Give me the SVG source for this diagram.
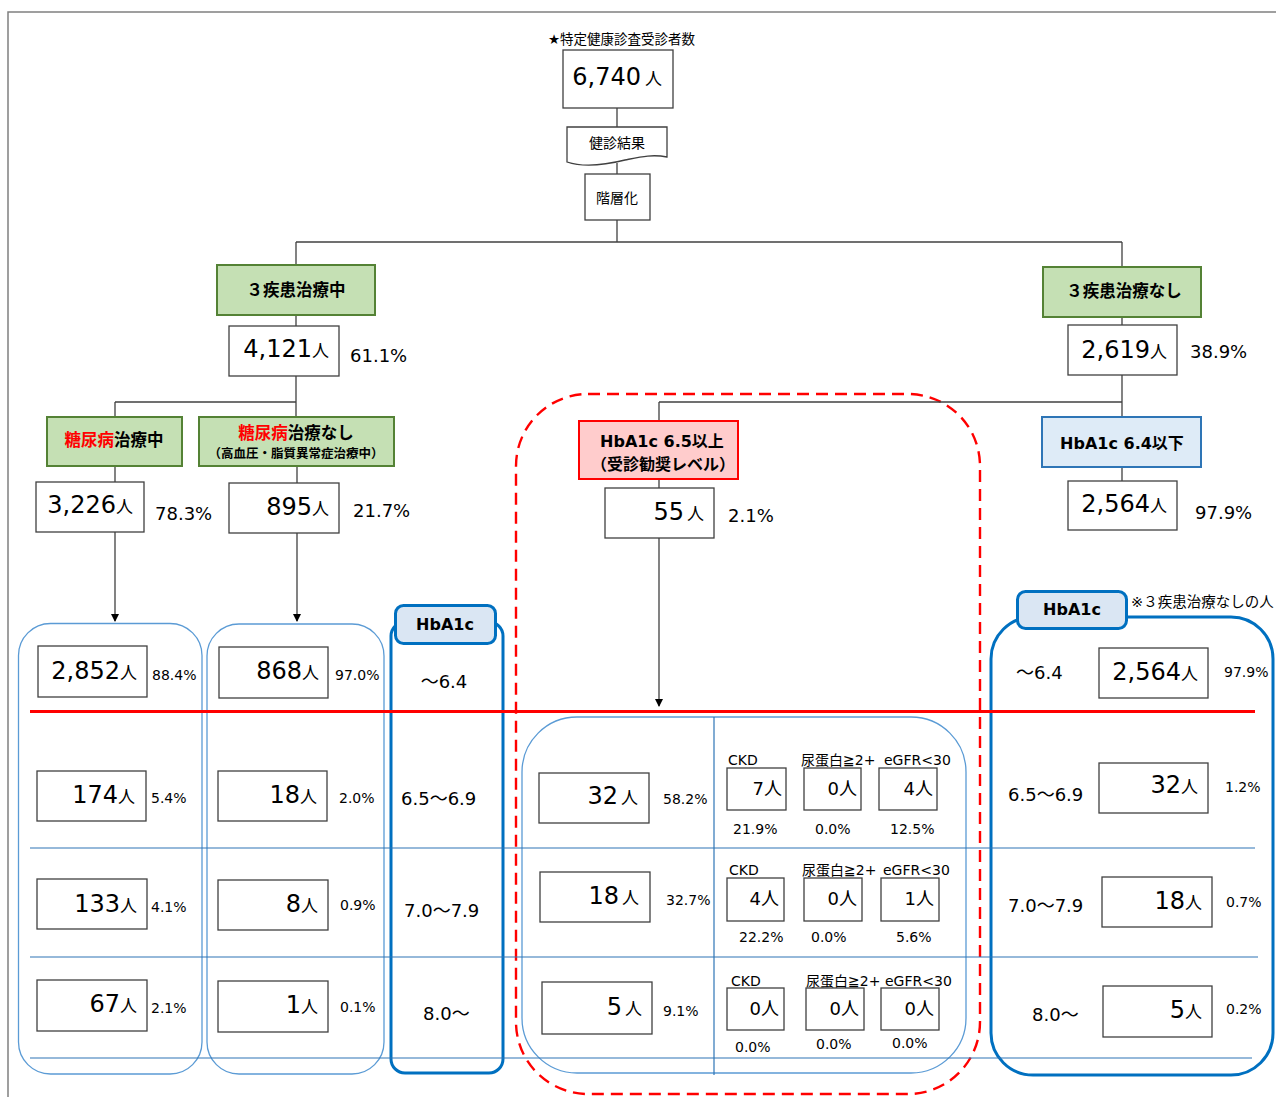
<svg xmlns="http://www.w3.org/2000/svg" width="1276" height="1097" viewBox="0 0 1276 1097">
<style>
.t{font-family:"DejaVu Sans","Noto Sans CJK JP",sans-serif;fill:#000}
.b{font-weight:bold}
.nb{fill:#fff;stroke:#404040;stroke-width:1.3}
.ln{stroke:#404040;stroke-width:1.3;fill:none}
.bl{stroke:#2e75b6;stroke-width:1.2;fill:none}
.big{font-size:24px}
.u{font-size:17px}
.pc{font-size:18px}
.ps{font-size:14px}
.sm{font-size:18px}
.gr{fill:#c5e0b4;stroke:#548235;stroke-width:2}
.cont{fill:none;stroke:#5b9bd5;stroke-width:1.3}
.thick{fill:none;stroke:#0070c0;stroke-width:3}
.tab{fill:#dae6f3;stroke:#0070c0;stroke-width:3}
.red{fill:#ff0000}
</style>
<defs>
<marker id="arr" markerWidth="8" markerHeight="8" refX="7" refY="4" orient="auto" markerUnits="userSpaceOnUse">
<path d="M0,0 L8,4 L0,8 Z" fill="#000"/>
</marker>
</defs>
<rect width="1276" height="1097" fill="#fff"/>
<path d="M8,1097 V12 H1276" fill="none" stroke="#808080" stroke-width="1.5"/>

<g id="containers">
<rect x="516" y="394" width="464" height="700" rx="72" fill="none" stroke="#ff0000" stroke-width="2.4" stroke-dasharray="12,7"/>
<rect class="cont" x="18.5" y="623.5" width="183.5" height="450.5" rx="32"/>
<rect class="cont" x="207" y="624" width="177" height="450" rx="32"/>
<rect class="cont" x="522" y="717" width="444" height="356" rx="55"/>
<rect class="thick" x="391" y="622" width="112" height="451" rx="14"/>
<rect class="thick" x="991" y="617" width="282" height="458" rx="42"/>
</g>

<g id="connectors">
<line class="ln" x1="617" y1="108" x2="617" y2="127"/>
<line class="ln" x1="617" y1="163" x2="617" y2="174"/>
<line class="ln" x1="617" y1="220" x2="617" y2="242"/>
<line class="ln" x1="296" y1="242" x2="1122" y2="242"/>
<line class="ln" x1="296" y1="242" x2="296" y2="265"/>
<line class="ln" x1="1122" y1="242" x2="1122" y2="267"/>
<line class="ln" x1="296" y1="316" x2="296" y2="326"/>
<line class="ln" x1="296" y1="376" x2="296" y2="417"/>
<line class="ln" x1="115" y1="402" x2="296" y2="402"/>
<line class="ln" x1="115" y1="402" x2="115" y2="417"/>
<line class="ln" x1="297" y1="466" x2="297" y2="483"/>
<line class="ln" x1="115" y1="466" x2="115" y2="482"/>
<line class="ln" x1="115" y1="532" x2="115" y2="621" marker-end="url(#arr)"/>
<line class="ln" x1="297" y1="533" x2="297" y2="621" marker-end="url(#arr)"/>
<line class="ln" x1="1122" y1="317" x2="1122" y2="325"/>
<line class="ln" x1="1122" y1="375" x2="1122" y2="417"/>
<line class="ln" x1="659" y1="402" x2="1122" y2="402"/>
<line class="ln" x1="659" y1="402" x2="659" y2="421"/>
<line class="ln" x1="1122" y1="467" x2="1122" y2="481"/>
<line class="ln" x1="659" y1="480" x2="659" y2="488"/>
<line class="ln" x1="659" y1="538" x2="659" y2="706" marker-end="url(#arr)"/>
<line class="bl" x1="714" y1="717" x2="714" y2="1075"/>
<line x1="30" y1="711.5" x2="1255" y2="711.5" stroke="#ff0000" stroke-width="3"/>
<line class="bl" x1="30" y1="848" x2="1255" y2="848"/>
<line class="bl" x1="30" y1="957" x2="1258" y2="957"/>
<line class="bl" x1="30" y1="1058" x2="1252" y2="1058"/>
</g>

<g id="top">
<text class="t" x="548" y="44" font-size="13.5">★特定健康診査受診者数</text>
<rect class="nb" x="563" y="50" width="110" height="58"/>
<text class="t" x="662" y="85" text-anchor="end"><tspan class="big">6,740</tspan><tspan class="u" dx="4">人</tspan></text>
</g>
<g id="kenshin">
<path d="M567,127 H667 V157 C652,154 640,157 625,160 C605,165 585,168 567,162 Z" class="nb"/>
<text class="t" x="617" y="148" font-size="14" text-anchor="middle">健診結果</text>
</g>
<g id="kaiso">
<rect class="nb" x="585" y="174" width="65" height="46"/>
<text class="t" x="617" y="203" font-size="14" text-anchor="middle">階層化</text>
</g>

<g id="chiryochu">
<rect class="gr" x="217" y="265" width="158" height="50"/>
<text class="t b" x="296" y="296" font-size="16.5" text-anchor="middle">３疾患治療中</text>
<rect class="nb" x="229" y="326" width="110" height="50"/>
<text class="t" x="329" y="357" text-anchor="end"><tspan class="big">4,121</tspan><tspan class="u">人</tspan></text>
<text class="t pc" x="350" y="362">61.1%</text>
</g>

<g id="tonyo-chu">
<rect class="gr" x="47" y="417" width="135" height="49"/>
<text class="t b" x="114" y="446" font-size="16.5" text-anchor="middle"><tspan class="red">糖尿病</tspan>治療中</text>
<rect class="nb" x="36" y="482" width="108" height="50"/>
<text class="t" x="133" y="513" text-anchor="end"><tspan class="big">3,226</tspan><tspan class="u">人</tspan></text>
<text class="t pc" x="155" y="520">78.3%</text>
</g>

<g id="tonyo-nashi">
<rect class="gr" x="199" y="417" width="195" height="49"/>
<text class="t b" x="296" y="439" font-size="16.5" text-anchor="middle"><tspan class="red">糖尿病</tspan>治療なし</text>
<text class="t b" x="296" y="458" font-size="12.5" text-anchor="middle">（高血圧・脂質異常症治療中）</text>
<rect class="nb" x="229" y="483" width="110" height="50"/>
<text class="t" x="329" y="515" text-anchor="end"><tspan class="big">895</tspan><tspan class="u">人</tspan></text>
<text class="t pc" x="353" y="517">21.7%</text>
</g>

<g id="hba-65">
<rect x="579" y="421" width="159" height="58" fill="#ffcccc" stroke="#ff0000" stroke-width="2"/>
<text class="t b" x="662" y="447" font-size="16" text-anchor="middle">HbA1c 6.5以上</text>
<text class="t b" x="663" y="470" font-size="16" text-anchor="middle">（受診勧奨レベル）</text>
<rect class="nb" x="605" y="488" width="109" height="50"/>
<text class="t" x="704" y="520" text-anchor="end"><tspan class="big">55</tspan><tspan class="u" dx="3">人</tspan></text>
<text class="t pc" x="728" y="522">2.1%</text>
</g>

<g id="nashi">
<rect class="gr" x="1043" y="267" width="158" height="50"/>
<text class="t b" x="1124" y="297" font-size="16.5" text-anchor="middle">３疾患治療なし</text>
<rect class="nb" x="1068" y="325" width="109" height="50"/>
<text class="t" x="1167" y="358" text-anchor="end"><tspan class="big">2,619</tspan><tspan class="u">人</tspan></text>
<text class="t pc" x="1190" y="358">38.9%</text>
</g>

<g id="hba-64">
<rect x="1042" y="417" width="159" height="50" fill="#deebf7" stroke="#2e75b6" stroke-width="2"/>
<text class="t b" x="1122" y="449" font-size="16" text-anchor="middle">HbA1c 6.4以下</text>
<rect class="nb" x="1068" y="481" width="109" height="49"/>
<text class="t" x="1167" y="512" text-anchor="end"><tspan class="big">2,564</tspan><tspan class="u">人</tspan></text>
<text class="t pc" x="1195" y="519">97.9%</text>
</g>

<g id="tab-left">
<rect class="tab" x="395.5" y="605.5" width="100" height="38" rx="8"/>
<text class="t b" x="445" y="630" font-size="16" text-anchor="middle">HbA1c</text>
<text class="t pc" x="444" y="688" text-anchor="middle">～6.4</text>
<text class="t pc" x="401" y="805">6.5～6.9</text>
<text class="t pc" x="404" y="917">7.0～7.9</text>
<text class="t pc" x="423" y="1020">8.0～</text>
</g>

<g id="col-chu">
<rect class="nb" x="38" y="646" width="109" height="51"/>
<text class="t" x="137" y="679" text-anchor="end"><tspan class="big">2,852</tspan><tspan class="u">人</tspan></text>
<text class="t ps" x="152" y="680">88.4%</text>
<rect class="nb" x="37" y="771" width="109" height="50"/>
<text class="t" x="135" y="803" text-anchor="end"><tspan class="big">174</tspan><tspan class="u">人</tspan></text>
<text class="t ps" x="151" y="803">5.4%</text>
<rect class="nb" x="37" y="879" width="110" height="50"/>
<text class="t" x="137" y="912" text-anchor="end"><tspan class="big">133</tspan><tspan class="u">人</tspan></text>
<text class="t ps" x="151" y="912">4.1%</text>
<rect class="nb" x="37" y="980" width="110" height="51"/>
<text class="t" x="137" y="1012" text-anchor="end"><tspan class="big">67</tspan><tspan class="u">人</tspan></text>
<text class="t ps" x="151" y="1013">2.1%</text>
</g>

<g id="col-nashi">
<rect class="nb" x="219" y="647" width="109" height="51"/>
<text class="t" x="319" y="679" text-anchor="end"><tspan class="big">868</tspan><tspan class="u">人</tspan></text>
<text class="t ps" x="335" y="680">97.0%</text>
<rect class="nb" x="218" y="771" width="109" height="50"/>
<text class="t" x="317" y="803" text-anchor="end"><tspan class="big">18</tspan><tspan class="u">人</tspan></text>
<text class="t ps" x="339" y="803">2.0%</text>
<rect class="nb" x="218" y="880" width="110" height="50"/>
<text class="t" x="318" y="912" text-anchor="end"><tspan class="big">8</tspan><tspan class="u">人</tspan></text>
<text class="t ps" x="340" y="910">0.9%</text>
<rect class="nb" x="218" y="981" width="110" height="51"/>
<text class="t" x="318" y="1013" text-anchor="end"><tspan class="big">1</tspan><tspan class="u">人</tspan></text>
<text class="t ps" x="340" y="1012">0.1%</text>
</g>

<g id="col-mid">
<rect class="nb" x="539" y="773" width="110" height="50"/>
<text class="t" x="638" y="804" text-anchor="end"><tspan class="big">32</tspan><tspan class="u" dx="3">人</tspan></text>
<text class="t ps" x="663" y="804">58.2%</text>
<text class="t ps" x="728" y="765">CKD</text>
<text class="t ps" x="801" y="765">尿蛋白≧2+</text>
<text class="t ps" x="884" y="765">eGFR&lt;30</text>
<rect class="nb" x="727" y="768" width="59" height="42"/>
<text class="t sm" x="782" y="795" text-anchor="end">7人</text>
<rect class="nb" x="804" y="768" width="57" height="42"/>
<text class="t sm" x="857" y="795" text-anchor="end">0人</text>
<rect class="nb" x="879" y="768" width="58" height="42"/>
<text class="t sm" x="933" y="795" text-anchor="end">4人</text>
<text class="t ps" x="733" y="834">21.9%</text>
<text class="t ps" x="815" y="834">0.0%</text>
<text class="t ps" x="890" y="834">12.5%</text>

<rect class="nb" x="540" y="872" width="110" height="50"/>
<text class="t" x="639" y="904" text-anchor="end"><tspan class="big">18</tspan><tspan class="u" dx="3">人</tspan></text>
<text class="t ps" x="666" y="905">32.7%</text>
<text class="t ps" x="729" y="875">CKD</text>
<text class="t ps" x="802" y="875">尿蛋白≧2+</text>
<text class="t ps" x="883" y="875">eGFR&lt;30</text>
<rect class="nb" x="727" y="878" width="57" height="43"/>
<text class="t sm" x="779" y="905" text-anchor="end">4人</text>
<rect class="nb" x="804" y="878" width="58" height="43"/>
<text class="t sm" x="857" y="905" text-anchor="end">0人</text>
<rect class="nb" x="881" y="878" width="58" height="43"/>
<text class="t sm" x="934" y="905" text-anchor="end">1人</text>
<text class="t ps" x="739" y="942">22.2%</text>
<text class="t ps" x="811" y="942">0.0%</text>
<text class="t ps" x="896" y="942">5.6%</text>

<rect class="nb" x="542" y="982" width="110" height="52"/>
<text class="t" x="642" y="1015" text-anchor="end"><tspan class="big">5</tspan><tspan class="u" dx="3">人</tspan></text>
<text class="t ps" x="663" y="1016">9.1%</text>
<text class="t ps" x="731" y="986">CKD</text>
<text class="t ps" x="806" y="986">尿蛋白≧2+</text>
<text class="t ps" x="885" y="986">eGFR&lt;30</text>
<rect class="nb" x="727" y="988" width="57" height="42"/>
<text class="t sm" x="779" y="1015" text-anchor="end">0人</text>
<rect class="nb" x="806" y="988" width="58" height="42"/>
<text class="t sm" x="859" y="1015" text-anchor="end">0人</text>
<rect class="nb" x="881" y="988" width="58" height="42"/>
<text class="t sm" x="934" y="1015" text-anchor="end">0人</text>
<text class="t ps" x="735" y="1052">0.0%</text>
<text class="t ps" x="816" y="1049">0.0%</text>
<text class="t ps" x="892" y="1048">0.0%</text>
</g>

<g id="col-right">
<rect class="tab" x="1017.5" y="591.5" width="109" height="37" rx="8"/>
<text class="t b" x="1072" y="615" font-size="16" text-anchor="middle">HbA1c</text>
<text class="t" x="1131" y="607" font-size="14.5">※３疾患治療なしの人</text>
<text class="t pc" x="1016" y="679">～6.4</text>
<rect class="nb" x="1099" y="648" width="109" height="50"/>
<text class="t" x="1198" y="680" text-anchor="end"><tspan class="big">2,564</tspan><tspan class="u">人</tspan></text>
<text class="t ps" x="1224" y="677">97.9%</text>
<text class="t pc" x="1008" y="801">6.5～6.9</text>
<rect class="nb" x="1099" y="763" width="109" height="50"/>
<text class="t" x="1198" y="793" text-anchor="end"><tspan class="big">32</tspan><tspan class="u">人</tspan></text>
<text class="t ps" x="1225" y="792">1.2%</text>
<text class="t pc" x="1008" y="912">7.0～7.9</text>
<rect class="nb" x="1102" y="877" width="110" height="50"/>
<text class="t" x="1202" y="909" text-anchor="end"><tspan class="big">18</tspan><tspan class="u">人</tspan></text>
<text class="t ps" x="1226" y="907">0.7%</text>
<text class="t pc" x="1032" y="1021">8.0～</text>
<rect class="nb" x="1103" y="986" width="109" height="51"/>
<text class="t" x="1202" y="1018" text-anchor="end"><tspan class="big">5</tspan><tspan class="u">人</tspan></text>
<text class="t ps" x="1226" y="1014">0.2%</text>
</g>
</svg>
